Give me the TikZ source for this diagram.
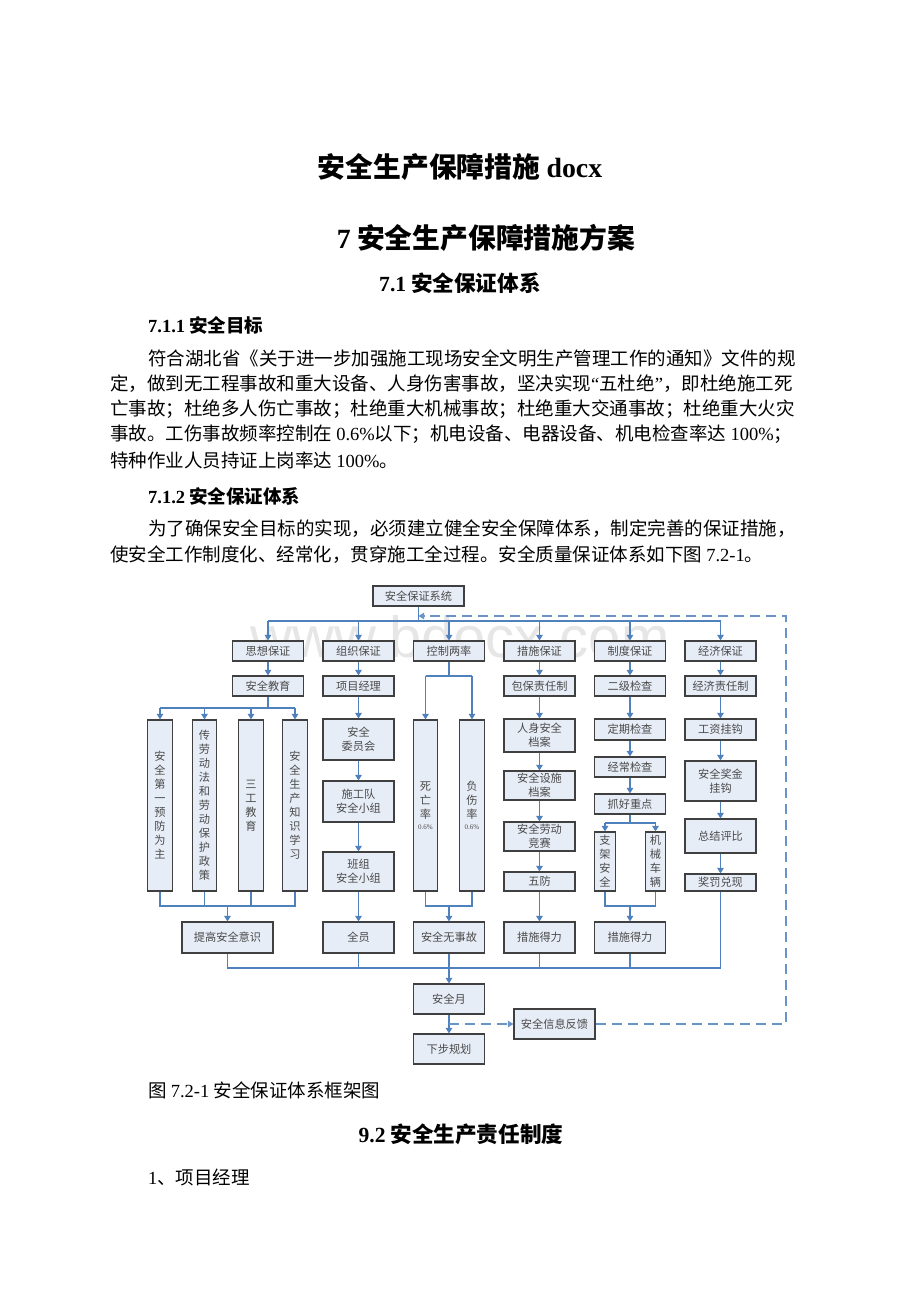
\documentclass[tikz,border=0pt]{standalone}
\usepackage{fontspec}
\setmainfont{Liberation Serif}
\newfontfamily\cjk{Noto Sans CJK SC}
\newfontfamily\wmfont{Liberation Sans}
\usetikzlibrary{arrows.meta}
\definecolor{boxfill}{HTML}{E7EDF7}
\definecolor{boxline}{HTML}{404040}
\definecolor{conn}{HTML}{4F81BD}
\definecolor{boxtext}{HTML}{4A4A4A}
\definecolor{wm}{HTML}{E6E6E6}
\begin{document}
\begin{tikzpicture}[x=1pt,y=-1pt,
 bx/.style={draw=boxline,line width=1.2pt,fill=boxfill,inner sep=0pt,align=center,text=boxtext,font=\cjk\fontsize{11.2}{14}\selectfont},
 wA/.style={minimum width=71pt},
 tall/.style={minimum width=24.5pt,minimum height=171pt},
 ln/.style={draw=conn,line width=1.1pt},
 ar/.style={draw=conn,line width=1.1pt,-{Triangle[length=5.5pt,width=6.5pt]}},
 dsh/.style={draw=conn!85,line width=1.1pt,dash pattern=on 10pt off 6pt},
 body/.style={inner sep=0pt,anchor=west,font=\cjk\fontsize{18.5}{22}\selectfont},
 head/.style={inner sep=0pt,font=\cjk\bfseries\fontsize{21.6}{24}\selectfont}
]
\useasboundingbox (0,0) rectangle (920,1302);
\fill[white] (0,0) rectangle (920,1302);

% ---------- page text ----------
\node[inner sep=0pt,font=\cjk\bfseries\fontsize{27.8}{30}\selectfont] (title) at (460,167) {安全生产保障措施 {\rmfamily\bfseries docx}};
\node[inner sep=0pt,font=\cjk\bfseries\fontsize{27.8}{30}\selectfont] (h2) at (486,238) {{\rmfamily\bfseries 7} 安全生产保障措施方案};
\node[head] (h3) at (460,283) {{\rmfamily\bfseries 7.1} 安全保证体系};
\node[body,font=\cjk\bfseries\fontsize{18.5}{22}\selectfont] (h4a) at (148,325) {{\rmfamily\bfseries 7.1.1} 安全目标};
\node[body] (p1) at (148,358) {符合湖北省《关于进一步加强施工现场安全文明生产管理工作的通知》文件的规};
\node[body] (p2) at (110,383.5) {定，做到无工程事故和重大设备、人身伤害事故，坚决实现{\rmfamily “}五杜绝{\rmfamily ”}，即杜绝施工死};
\node[body] (p3) at (110,409) {亡事故；杜绝多人伤亡事故；杜绝重大机械事故；杜绝重大交通事故；杜绝重大火灾};
\node[body] (p4) at (110,434.5) {事故。工伤事故频率控制在 {\rmfamily 0.6\%}以下；机电设备、电器设备、机电检查率达 {\rmfamily 100\%}；};
\node[body] (p5) at (110,460) {特种作业人员持证上岗率达 {\rmfamily 100\%}。};
\node[body,font=\cjk\bfseries\fontsize{18.5}{22}\selectfont] (h4b) at (148,496) {{\rmfamily\bfseries 7.1.2} 安全保证体系};
\node[body] (q1) at (148,529) {为了确保安全目标的实现，必须建立健全安全保障体系，制定完善的保证措施，};
\node[body] (q2) at (110,555) {使安全工作制度化、经常化，贯穿施工全过程。安全质量保证体系如下图 {\rmfamily 7.2-1}。};
\node[body] (cap) at (148,1090) {图 {\rmfamily 7.2-1} 安全保证体系框架图};
\node[head] (h92) at (461,1134) {{\rmfamily\bfseries 9.2} 安全生产责任制度};
\node[body] (pm) at (148,1177) {{\rmfamily 1}、项目经理};

% ---------- watermark ----------
\node[inner sep=0pt,anchor=base,text=wm,font=\wmfont\fontsize{58}{60}\selectfont] (wmk) at (460,657) {www.bdocx.com};

% ---------- boxes ----------
\node[bx,minimum width=91pt,minimum height=20pt] (top) at (418.5,596) {安全保证系统};

\foreach \n/\x/\t in {sx/268/思想保证,zz/358.5/组织保证,kz/449/控制两率,cs/539.5/措施保证,zd/630/制度保证,jj/720.5/经济保证}
  \node[bx,wA,minimum height=20pt] (\n) at (\x,651) {\t};

\foreach \n/\x/\t in {aqjy/268/安全教育,xmjl/358.5/项目经理,bbzr/539.5/包保责任制,ejjc/630/二级检查,jjzr/720.5/经济责任制}
  \node[bx,wA,minimum height=20pt] (\n) at (\x,686) {\t};

% education column
\node[bx,tall] (t1) at (160,805.5) {安\\全\\第\\一\\预\\防\\为\\主};
\node[bx,tall] (t2) at (204.5,805.5) {传\\劳\\动\\法\\和\\劳\\动\\保\\护\\政\\策};
\node[bx,tall] (t3) at (251,805.5) {三\\工\\教\\育};
\node[bx,tall] (t4) at (295,805.5) {安\\全\\生\\产\\知\\识\\学\\习};

% organisation column
\node[bx,wA,minimum height=41pt] (wyh) at (358.5,739.5) {安全\\委员会};
\node[bx,wA,minimum height=41pt] (sgd) at (358.5,801.5) {施工队\\安全小组};
\node[bx,wA,minimum height=39pt] (bz) at (358.5,871.5) {班组\\安全小组};

% control column
\node[bx,tall] (swl) at (425.5,805.5) {死\\亡\\率\\[-3.5pt]{\rmfamily\fontsize{7}{8}\selectfont 0.6\%}};
\node[bx,tall] (fsl) at (472,805.5) {负\\伤\\率\\[-3.5pt]{\rmfamily\fontsize{7}{8}\selectfont 0.6\%}};

% measures column
\node[bx,wA,minimum height=33pt] (rsaq) at (539.5,735.5) {人身安全\\档案};
\node[bx,wA,minimum height=29pt] (aqss) at (539.5,785.5) {安全设施\\档案};
\node[bx,wA,minimum height=29pt] (aqld) at (539.5,836.5) {安全劳动\\竞赛};
\node[bx,wA,minimum height=19pt] (wf) at (539.5,881.5) {五防};

% system column
\node[bx,wA,minimum height=21pt] (dqjc) at (630,729.5) {定期检查};
\node[bx,wA,minimum height=20pt] (jcjc) at (630,767) {经常检查};
\node[bx,wA,minimum height=20pt] (zhzd) at (630,804) {抓好重点};
\node[bx,minimum width=20.5pt,minimum height=59pt] (zjaq) at (605,861.5) {支\\架\\安\\全};
\node[bx,minimum width=20.5pt,minimum height=59pt] (jxcl) at (655.5,861.5) {机\\械\\车\\辆};

% economy column
\node[bx,wA,minimum height=21pt] (gzgg) at (720.5,729.5) {工资挂钩};
\node[bx,wA,minimum height=40pt] (aqjj) at (720.5,781) {安全奖金\\挂钩};
\node[bx,wA,minimum height=34pt] (zjpb) at (720.5,836) {总结评比};
\node[bx,wA,minimum height=17pt] (jfdx) at (720.5,882.5) {奖罚兑现};

% results row
\node[bx,minimum width=91pt,minimum height=31pt] (tgaq) at (227.5,937.5) {提高安全意识};
\node[bx,wA,minimum height=31pt] (qy) at (358.5,937.5) {全员};
\node[bx,wA,minimum height=31pt] (aqwsg) at (449,937.5) {安全无事故};
\node[bx,wA,minimum height=31pt] (csdl1) at (539.5,937.5) {措施得力};
\node[bx,wA,minimum height=31pt] (csdl2) at (630,937.5) {措施得力};

\node[bx,wA,minimum height=30pt] (aqy) at (449,999) {安全月};
\node[bx,wA,minimum height=30pt] (xbgh) at (449,1049) {下步规划};
\node[bx,minimum width=81pt,minimum height=30pt] (fb) at (554.5,1024) {安全信息反馈};

% ---------- connectors ----------
\coordinate (bus) at (418.5,621);
\draw[ln] (top.south) -- (top.south |- bus);
\draw[ln] (sx.north |- bus) -- (jj.north |- bus);
\foreach \n in {sx,zz,kz,cs,zd,jj} \draw[ar] (\n.north |- bus) -- (\n.north);

\foreach \a/\b in {sx/aqjy,zz/xmjl,cs/bbzr,zd/ejjc,jj/jjzr,xmjl/wyh,wyh/sgd,sgd/bz,bz/qy,bbzr/rsaq,rsaq/aqss,aqss/aqld,aqld/wf,wf/csdl1,ejjc/dqjc,dqjc/jcjc,jcjc/zhzd,jjzr/gzgg,gzgg/aqjj,aqjj/zjpb,zjpb/jfdx,aqy/xbgh}
  \draw[ar] (\a.south) -- (\b.north);

% education fan-out / fan-in
\coordinate (jyb) at (268,708);
\draw[ln] (aqjy.south) -- (jyb);
\draw[ln] (t1.north |- jyb) -- (t4.north |- jyb);
\foreach \n in {t1,t2,t3,t4} \draw[ar] (\n.north |- jyb) -- (\n.north);
\coordinate (m1) at (227.5,906);
\draw[ln] (t1.south) -- (t1.south |- m1) -- (t4.south |- m1) -- (t4.south);
\draw[ln] (t2.south) -- (t2.south |- m1);
\draw[ln] (t3.south) -- (t3.south |- m1);
\draw[ar] (m1) -- (tgaq.north);

% control fan-out / fan-in
\coordinate (kzb) at (449,676);
\draw[ln] (kz.south) -- (kzb);
\draw[ln] (swl.north |- kzb) -- (fsl.north |- kzb);
\draw[ar] (swl.north |- kzb) -- (swl.north);
\draw[ar] (fsl.north |- kzb) -- (fsl.north);
\coordinate (m2) at (449,906);
\draw[ln] (swl.south) -- (swl.south |- m2) -- (fsl.south |- m2) -- (fsl.south);
\draw[ar] (m2) -- (aqwsg.north);

% key points fan-out / fan-in
\coordinate (zb) at (630,823);
\draw[ln] (zhzd.south) -- (zb);
\draw[ln] (zjaq.north |- zb) -- (jxcl.north |- zb);
\draw[ar] (zjaq.north |- zb) -- (zjaq.north);
\draw[ar] (jxcl.north |- zb) -- (jxcl.north);
\coordinate (m3) at (630,906);
\draw[ln] (zjaq.south) -- (zjaq.south |- m3) -- (jxcl.south |- m3) -- (jxcl.south);
\draw[ar] (m3) -- (csdl2.north);

% bottom bus
\coordinate (bb) at (449,968);
\draw[ln] (tgaq.south) -- (tgaq.south |- bb) -- (jfdx.south |- bb) -- (jfdx.south);
\foreach \n in {qy,aqwsg,csdl1,csdl2} \draw[ln] (\n.south) -- (\n.south |- bb);
\draw[ar] (bb) -- (aqy.north);

% feedback loop
\coordinate (c1) at (786,1024);
\coordinate (c2) at (786,616);
\draw[dsh,-{Triangle[length=5.5pt,width=6.5pt]}] (aqy.south |- fb.west) -- (fb.west);
\draw[dsh,-{Triangle[length=5.5pt,width=6.5pt]}] (fb.east) -- (c1) -- (c2) -- (top.south |- c2);
\end{tikzpicture}
\end{document}
